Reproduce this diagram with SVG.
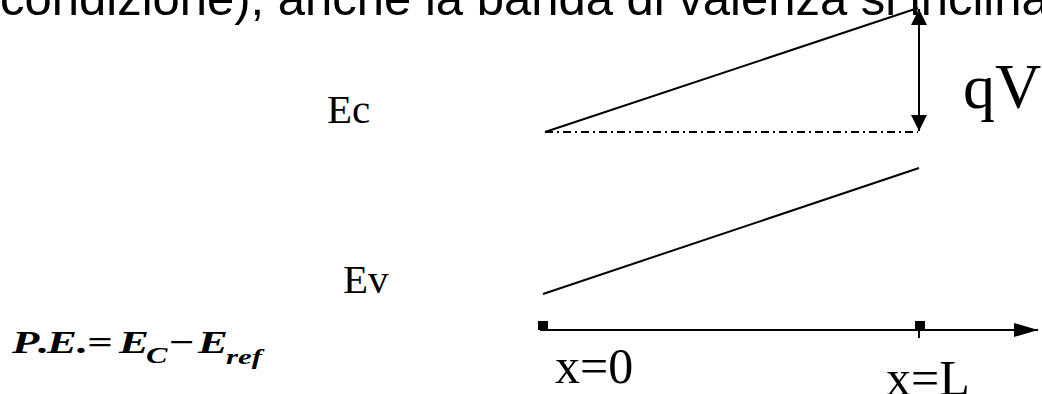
<svg xmlns="http://www.w3.org/2000/svg" width="1042" height="394" viewBox="0 0 1042 394">
  <defs>
    <style>
      .sans { font-family: "Liberation Sans", Arial, sans-serif; fill: #000; }
      .serif { font-family: "Liberation Serif", "Times New Roman", serif; fill: #000; }
      .ln { stroke: #000; stroke-width: 2; fill: none; }
      .eq { font-family: "Liberation Serif", "Times New Roman", serif; font-weight: bold; font-style: italic; fill: #000; }
    </style>
    <marker id="ah" viewBox="0 0 16 16" refX="16" refY="8" markerWidth="16" markerHeight="16" markerUnits="userSpaceOnUse" orient="auto-start-reverse">
      <path d="M0,0 L16,8 L0,16 Z" fill="#000"/>
    </marker>
    <marker id="ax" viewBox="0 0 24 14" refX="24" refY="7" markerWidth="24" markerHeight="14" markerUnits="userSpaceOnUse" orient="auto">
      <path d="M0,0 L24,7 L0,14 Z" fill="#000"/>
    </marker>
  </defs>
  <rect width="1042" height="394" fill="#fff"/>

  <g id="heading">
    <text class="sans" x="0" y="15" font-size="49">condizione), anche la banda di valenza si inclina</text>
  </g>

  <g id="connectors">
    <line id="ec-tilted" class="ln" x1="545" y1="132" x2="918" y2="8"/>
    <line id="ec-ref" class="ln" x1="545" y1="132" x2="918" y2="132" stroke-dasharray="8 4 2 4"/>
    <line id="qv-arrow" class="ln" x1="919" y1="9" x2="919" y2="131" marker-start="url(#ah)" marker-end="url(#ah)"/>
    <line id="ev-tilted" class="ln" x1="543" y1="294" x2="919" y2="168"/>
    <line id="x-axis" class="ln" x1="540" y1="330" x2="1038" y2="330" marker-end="url(#ax)"/>
    <rect x="538" y="321" width="10" height="9" fill="#000"/>
    <rect x="915" y="321" width="10" height="9" fill="#000"/>
    <line class="ln" x1="919" y1="330" x2="919" y2="338"/>
  </g>

  <g id="label-ec">
    <text class="serif" x="327" y="123" font-size="41">Ec</text>
  </g>
  <g id="label-ev">
    <text class="serif" x="343" y="293" font-size="41">Ev</text>
  </g>
  <g id="label-qv">
    <text class="serif" x="963" y="108" font-size="64">qV</text>
  </g>
  <g id="label-x0">
    <text class="serif" x="555" y="383" font-size="50">x=0</text>
  </g>
  <g id="label-xl">
    <text class="serif" x="886" y="395" font-size="50">x=L</text>
  </g>
  <g id="equation" transform="translate(12,353) scale(1.4,1)">
    <text class="eq" font-size="32" y="0"><tspan x="0">P</tspan><tspan x="18.6">.</tspan><tspan x="25">E</tspan><tspan x="46.4">.</tspan><tspan x="53.6">=</tspan><tspan x="76.4">E</tspan><tspan x="95.7" y="10" font-size="23">C</tspan><tspan x="111.4" y="0">−</tspan><tspan x="132.9">E</tspan><tspan x="152.9" y="11" font-size="22">ref</tspan></text>
  </g>
</svg>
